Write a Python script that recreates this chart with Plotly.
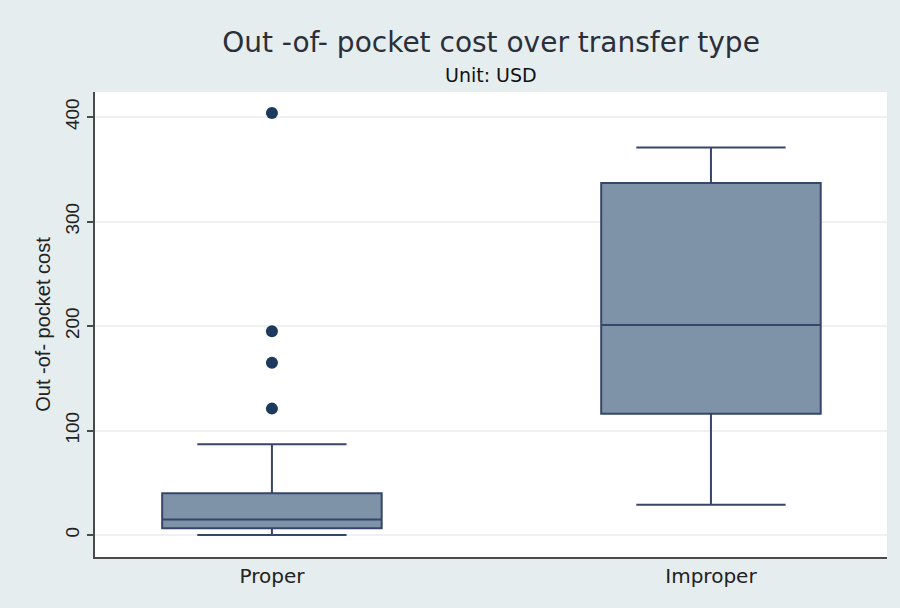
import plotly.graph_objects as go

# Transfer types and their box summaries (USD)
categories = ["Proper", "Improper"]
q1_vals = [6.5, 116]
median_vals = [15, 201]
q3_vals = [40, 337]
lower_fence = [0, 29]
upper_fence = [87, 371]

# Outlying observations beyond the whiskers
outlier_cat = ["Proper", "Proper", "Proper", "Proper"]
outlier_vals = [404, 195, 165, 121]

y_ticks = [0, 100, 200, 300, 400]

BOX_FILL = "#7e93a8"
BOX_LINE = "#37456a"
DOT = "#1b3a5e"
BG = "#e6edef"
WIDE_FONT = "DejaVu Sans, Verdana, sans-serif"
FONT = "Liberation Sans, Arial, sans-serif"

PLOT_TOP, PLOT_BOTTOM = 92, 557
PLOT_H = PLOT_BOTTOM - PLOT_TOP

fig = go.Figure()
fig.add_trace(go.Box(
    x=categories,
    q1=q1_vals,
    median=median_vals,
    q3=q3_vals,
    lowerfence=lower_fence,
    upperfence=upper_fence,
    fillcolor=BOX_FILL,
    line=dict(color=BOX_LINE, width=2),
    width=0.5,
    whiskerwidth=0.68,
    boxpoints=False,
    showlegend=False,
    hoverinfo="skip",
))
fig.add_trace(go.Scatter(
    x=outlier_cat,
    y=outlier_vals,
    mode="markers",
    marker=dict(color=DOT, size=12),
    showlegend=False,
))

fig.update_layout(
    width=900, height=608,
    paper_bgcolor=BG,
    plot_bgcolor="white",
    margin=dict(l=95, r=13, t=PLOT_TOP, b=608 - PLOT_BOTTOM),
    font=dict(family=FONT, color="#222222"),
    title=dict(
        text="Out -of- pocket cost over transfer type",
        x=0.5, xref="paper", xanchor="center",
        y=1 - 42 / 608, yanchor="middle", yref="container",
        font=dict(size=28, color="#2a2f3a", family=WIDE_FONT),
    ),
    annotations=[dict(
        text="Unit: USD",
        x=0.5, xref="paper", xanchor="center",
        y=(PLOT_BOTTOM - 75) / PLOT_H, yref="paper", yanchor="middle",
        showarrow=False,
        font=dict(size=19, color="#111111", family=WIDE_FONT),
    )],
)

fig.update_xaxes(
    type="category",
    categoryorder="array", categoryarray=categories,
    range=[-0.403, 1.401],
    showline=True, linecolor="#4a4a4a", linewidth=2,
    ticks="", showgrid=False,
    tickfont=dict(size=20, color="#222222", family=WIDE_FONT),
)
fig.update_yaxes(
    range=[-21, 424],
    tickvals=y_ticks,
    tickangle=-90,
    showline=True, linecolor="#4a4a4a", linewidth=2,
    ticks="outside", ticklen=6, tickcolor="#4a4a4a", tickwidth=1.5,
    showgrid=True, gridcolor="#eef0f1", gridwidth=1.5,
    zeroline=False,
    tickfont=dict(size=19, color="#222222"),
    title=dict(text="Out -of- pocket cost", font=dict(size=20, color="#222222"), standoff=6),
)

fig.write_html("out.html")
